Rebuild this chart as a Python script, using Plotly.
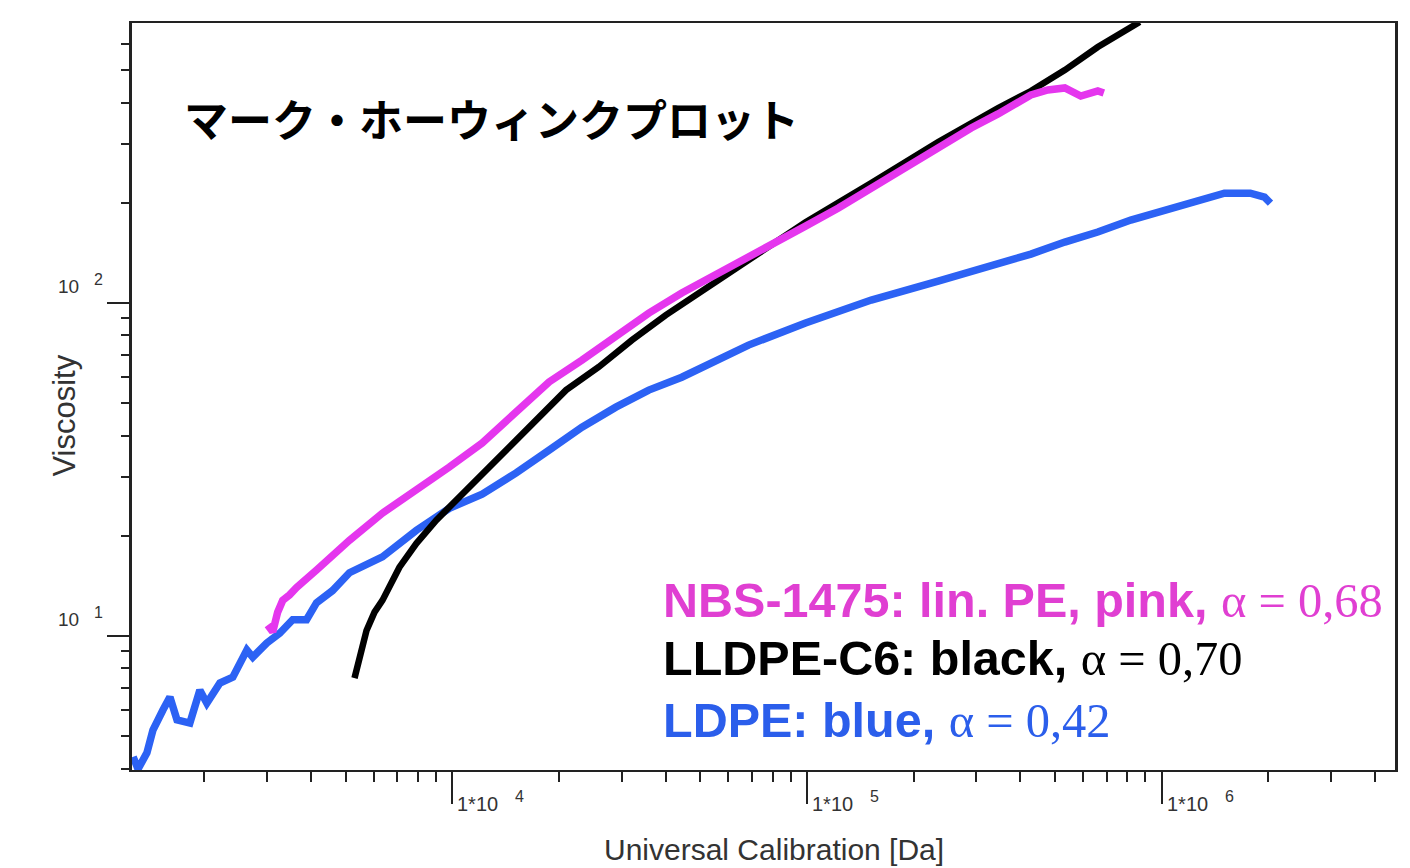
import plotly.graph_objects as go
import math

# ---------------- data ----------------
ldpe_M = [1259, 1300, 1377, 1432, 1528, 1599, 1674, 1820, 1942, 2032, 2212, 2405, 2635, 2738,
          2998, 3261, 3548, 3882, 4143, 4596, 5129, 6353, 7925, 9812, 12140, 15140, 18750,
          23210, 28920, 35810, 44360, 55300, 68420, 99080, 151800, 234400, 345800, 427900,
          533400, 660700, 818500, 1018000, 1262000, 1503000, 1778000, 1950000, 2027000]
ldpe_eta = [4.34, 3.99, 4.46, 5.22, 6.00, 6.56, 5.60, 5.48, 6.88, 6.29, 7.23, 7.53, 9.08, 8.65,
            9.53, 10.2, 11.2, 11.2, 12.6, 13.7, 15.5, 17.3, 20.8, 24.2, 26.7, 30.9, 36.2,
            42.4, 48.7, 54.8, 59.9, 67.4, 74.8, 87.1, 102.1, 116.4, 131.0, 140.3,
            152.5, 163.4, 177.5, 190.2, 203.8, 213.8, 213.8, 208.0, 199.5]

nbs_M = [3017, 3117, 3218, 3325, 3476, 3640, 4143, 5129, 6353, 7925, 9812, 12140, 15140,
         18750, 23210, 28920, 35810, 44360, 55300, 68420, 99080, 122700, 151800, 189200,
         234400, 290400, 345800, 427900, 477600, 533400, 591600, 660700, 687100]
nbs_eta = [10.8, 10.3, 11.8, 12.8, 13.3, 14.0, 15.8, 19.4, 23.4, 27.4, 32.2, 38.0, 47.5,
           58.0, 67.4, 79.1, 93.3, 107.2, 121.3, 137.4, 170.3, 192.9, 221.4, 254.3,
           292.1, 335.4, 369.8, 421.5, 436.3, 442.6, 418.4, 433.3, 427.2]

lldpe_M = [5300, 5475, 5730, 6036, 6353, 7096, 7925, 9016, 10940, 13560, 16790, 20930, 25880,
           32090, 39990, 49540, 61380, 76380, 99080, 151800, 234400, 345800, 427900, 533400,
           660700, 867000]
lldpe_eta = [7.48, 8.47, 10.4, 11.8, 12.8, 16.1, 19.0, 22.3, 27.4, 34.5, 43.6, 54.8, 64.3,
             77.4, 92.0, 107.2, 125.6, 145.2, 175.0, 229.2, 304.3, 385.2, 433.3, 500.9,
             587.5, 698.0]

x_major = [1e4, 1e5, 1e6]
x_exponents = ["4", "5", "6"]
x_minor = [2e3, 3e3, 4e3, 5e3, 6e3, 7e3, 8e3, 9e3,
           2e4, 3e4, 4e4, 5e4, 6e4, 7e4, 8e4, 9e4,
           2e5, 3e5, 4e5, 5e5, 6e5, 7e5, 8e5, 9e5,
           2e6, 3e6, 4e6]
y_major = [10, 100]
y_exponents = ["1", "2"]
y_minor = [4, 5, 6, 7, 8, 9, 20, 30, 40, 50, 60, 70, 80, 90, 200, 300, 400, 500, 600]

title_text = "マーク・ホーウィンクプロット"
x_title = "Universal Calibration [Da]"
y_title = "Viscosity"

PINK = "#E536EE"
BLUE = "#2C62F4"
PINK_TXT = "#E03FD2"
BLUE_TXT = "#2B5EEB"

# ---------------- figure ----------------
fig = go.Figure()
fig.add_trace(go.Scatter(x=ldpe_M, y=ldpe_eta, mode="lines",
                         line=dict(color=BLUE, width=7.5), name="LDPE"))
fig.add_trace(go.Scatter(x=lldpe_M, y=lldpe_eta, mode="lines",
                         line=dict(color="#000000", width=6.5), name="LLDPE-C6"))
fig.add_trace(go.Scatter(x=nbs_M, y=nbs_eta, mode="lines",
                         line=dict(color=PINK, width=7.5), name="NBS-1475"))

AX_COL = "#222222"
fig.update_xaxes(type="log", range=[math.log10(1250), 6.658],
                 showgrid=False, zeroline=False,
                 showline=True, linecolor=AX_COL, linewidth=2, mirror=True,
                 tickmode="array", tickvals=x_major, showticklabels=False,
                 ticks="outside", ticklen=32, tickwidth=2, tickcolor=AX_COL,
                 minor=dict(tickvals=x_minor, ticks="outside", ticklen=10,
                            tickwidth=2, tickcolor=AX_COL))
fig.update_yaxes(type="log", range=[0.598, 2.841],
                 showgrid=False, zeroline=False,
                 showline=True, linecolor=AX_COL, linewidth=2.5, mirror=True,
                 tickmode="array", tickvals=y_major, showticklabels=False,
                 ticks="outside", ticklen=22, tickwidth=2, tickcolor=AX_COL,
                 minor=dict(tickvals=y_minor, ticks="outside", ticklen=8,
                            tickwidth=2, tickcolor=AX_COL))

def tfont(size):
    return dict(family="Liberation Sans, Arial", size=size, color="#333333")

ann = []
# x tick labels (1*10^n)
for v, e in zip(x_major, x_exponents):
    ann.append(dict(x=math.log10(v), xref="x", y=0, yref="paper", text="1*10",
                    showarrow=False, xanchor="left", yanchor="middle",
                    xshift=3, yshift=-34, font=tfont(20)))
    ann.append(dict(x=math.log10(v), xref="x", y=0, yref="paper", text=e,
                    showarrow=False, xanchor="left", yanchor="middle",
                    xshift=61, yshift=-26, font=tfont(16)))
# y tick labels (10^n)
for v, e in zip(y_major, y_exponents):
    ann.append(dict(x=0, xref="paper", y=math.log10(v), yref="y", text="10",
                    showarrow=False, xanchor="right", yanchor="middle",
                    xshift=-51, yshift=17, font=tfont(19)))
    ann.append(dict(x=0, xref="paper", y=math.log10(v), yref="y", text=e,
                    showarrow=False, xanchor="left", yanchor="middle",
                    xshift=-40, yshift=24, font=tfont(16)))
# axis titles
ann.append(dict(x=0.508, xref="paper", y=-0.107, yref="paper", text=x_title,
                showarrow=False, xanchor="center", yanchor="middle",
                font=tfont(30)))
ann.append(dict(x=-0.0535, xref="paper", y=0.475, yref="paper", text=y_title,
                showarrow=False, xanchor="center", yanchor="middle", textangle=-90,
                font=tfont(31)))
# title inside plot
ann.append(dict(x=0.0395, xref="paper", y=0.873, yref="paper", text="<b>%s</b>" % title_text,
                showarrow=False, xanchor="left", yanchor="middle",
                font=dict(family="Noto Sans CJK JP", size=44, color="#000000")))

def legend_line(label, alpha, color, y):
    txt = ("<b>%s</b> <span style=\"font-family:'Liberation Serif'\">α = %s</span>"
           % (label, alpha))
    return dict(x=0.4187, xref="paper", y=y, yref="paper", text=txt, showarrow=False,
                xanchor="left", yanchor="middle",
                font=dict(family="Liberation Sans, Arial", size=48.5, color=color))

ann.append(legend_line("NBS-1475: lin. PE, pink,", "0,68", PINK_TXT, 0.2276))
ann.append(legend_line("LLDPE-C6: black,", "0,70", "#000000", 0.150))
ann.append(legend_line("LDPE: blue,", "0,42", BLUE_TXT, 0.0669))

# page body has an 8px margin: figure placed at (8, 8)
fig.update_layout(width=1394, height=860,
                  margin=dict(l=124, r=4, t=15, b=98),
                  paper_bgcolor="white", plot_bgcolor="white",
                  showlegend=False, annotations=ann)

fig.write_html("out.html")
